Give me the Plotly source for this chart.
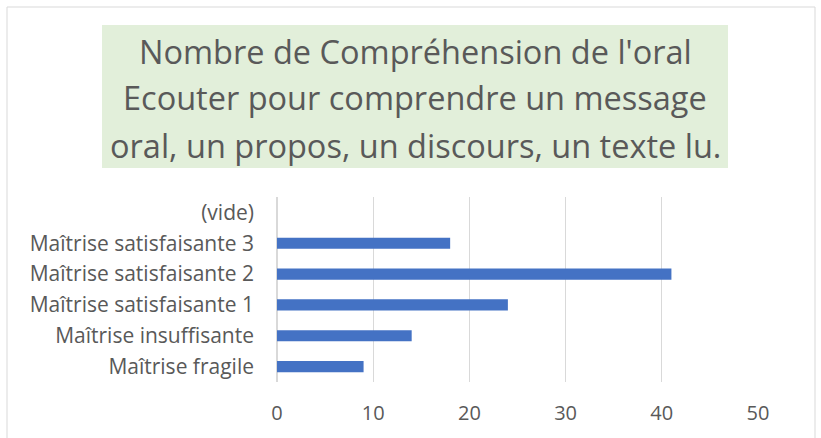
import plotly.graph_objects as go

categories = ["Maîtrise fragile", "Maîtrise insuffisante", "Maîtrise satisfaisante 1",
              "Maîtrise satisfaisante 2", "Maîtrise satisfaisante 3", "(vide)"]
values = [9, 14, 24, 41, 18, 0]
x_ticks = [0, 10, 20, 30, 40, 50]
title_lines = ["Nombre de Compréhension de l'oral",
               "Ecouter pour comprendre un message",
               "oral, un propos, un discours, un texte lu."]

W, H = 821, 438
L, R, T, B = 277, 758, 197, 382  # plot area pixel bounds

def px(x):
    return (x - L) / (R - L)

def py(y):
    return (B - y) / (B - T)

fig = go.Figure(go.Bar(
    x=values, y=categories, orientation="h",
    marker=dict(color="#4472C4", line=dict(width=0)),
))

font_family = "Open Sans, Liberation Sans, sans-serif"

fig.update_layout(
    width=W, height=H,
    margin=dict(l=L, r=W - R, t=T, b=H - B, pad=0),
    paper_bgcolor="white", plot_bgcolor="white",
    showlegend=False, bargap=0.64,
    font=dict(family=font_family, color="#595959", size=20),
    xaxis=dict(range=[0, 50], tickvals=x_ticks, showgrid=True, gridcolor="#D9D9D9",
               gridwidth=1, zeroline=True, zerolinecolor="#D9D9D9", showline=False,
               ticks="", ticklabelstandoff=17, tickfont=dict(size=20)),
    yaxis=dict(categoryorder="array", categoryarray=categories, showgrid=False,
               zeroline=False, showline=False, ticks="", ticklabelstandoff=22,
               tickfont=dict(size=21)),
    shapes=[
        dict(type="rect", xref="paper", yref="paper",
             x0=px(7), x1=px(815), y0=py(460), y1=py(7),
             line=dict(color="#D9D9D9", width=1), fillcolor="rgba(0,0,0,0)", layer="below"),
        dict(type="rect", xref="paper", yref="paper",
             x0=px(102), x1=px(728), y0=py(168), y1=py(25),
             line=dict(width=0), fillcolor="#E2EFDA", layer="below"),
    ],
    annotations=[
        dict(text=t, xref="paper", yref="paper", x=px(415), y=py(yc),
             xanchor="center", yanchor="middle", showarrow=False,
             font=dict(size=32.5, color="#595959", family=font_family))
        for t, yc in zip(title_lines, [51, 98, 145])
    ],
)

fig.write_html("out.html", config={"displayModeBar": False},
               post_script="document.body.style.margin='0';document.body.style.overflow='hidden';")
